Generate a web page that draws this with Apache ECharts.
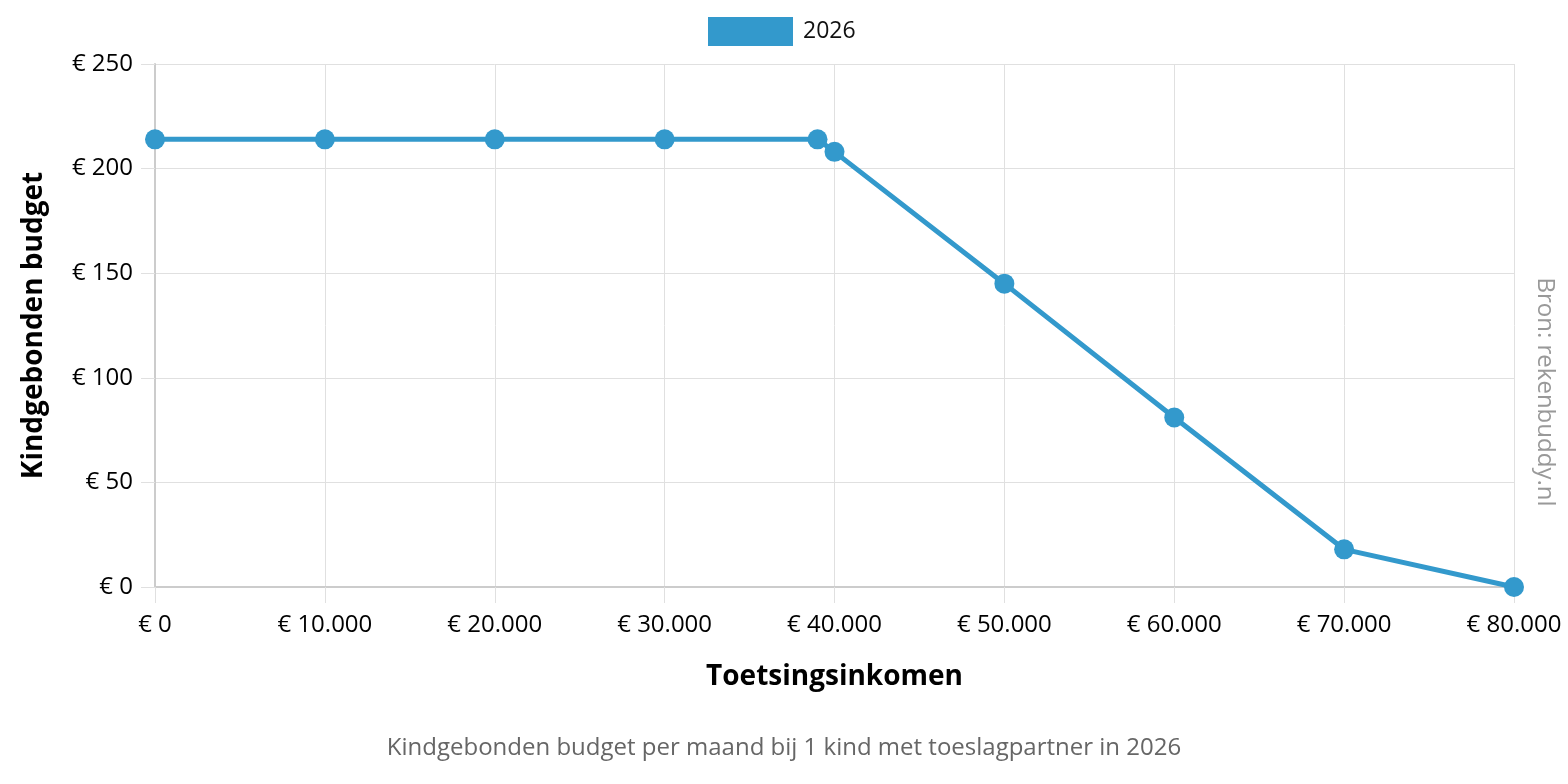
<!DOCTYPE html>
<html>
<head>
<meta charset="utf-8">
<script src="https://cdn.jsdelivr.net/npm/echarts@6/dist/echarts.min.js"></script>
<style>html,body{margin:0;padding:0;background:#fff;}#c{width:1568px;height:784px;}</style>
</head>
<body>
<div id="c"></div>
<script>
var incomes = [0, 10000, 20000, 30000, 39000, 40000, 50000, 60000, 70000, 80000];
var budget2026 = [214, 214, 214, 214, 214, 208, 145, 81, 18, 0];
var seriesName = '2026';
var titleText = 'Kindgebonden budget per maand bij 1 kind met toeslagpartner in 2026';
var xName = 'Toetsingsinkomen';
var yName = 'Kindgebonden budget';
var sourceText = 'Bron: rekenbuddy.nl';

function fmt(v) {
  return '€ ' + String(v).replace(/\B(?=(\d{3})+(?!\d))/g, '.');
}
var font = '"Open Sans", sans-serif';
var chart = echarts.init(document.getElementById('c'));
chart.setOption({
  animation: false,
  textStyle: { fontFamily: font },
  title: {
    text: titleText, left: 'center', bottom: 19,
    textStyle: { fontFamily: font, fontSize: 24, fontWeight: 'normal', color: '#666' }
  },
  legend: {
    data: [seriesName], top: 12, left: 703,
    itemWidth: 85, itemHeight: 29, itemGap: 10,
    icon: 'rect',
    textStyle: { fontFamily: font, fontSize: 23, color: '#111', padding: [0, 0, 0, 5] }
  },
  grid: { left: 155, right: 54, top: 64, bottom: 197, containLabel: false },
  xAxis: {
    type: 'value', min: 0, max: 80000, interval: 10000,
    name: xName, nameLocation: 'middle', nameGap: 76,
    nameTextStyle: { fontFamily: font, fontSize: 28, fontWeight: 'bold', color: '#000' },
    axisLine: { show: true, lineStyle: { color: '#ccc', width: 2 } },
    axisTick: { show: true, length: 16, lineStyle: { color: '#e0e0e0' } },
    splitLine: { show: true, lineStyle: { color: '#e0e0e0' } },
    axisLabel: { formatter: fmt, fontSize: 24, color: '#000', margin: 26, fontFamily: font }
  },
  yAxis: {
    type: 'value', min: 0, max: 250, interval: 50,
    name: yName, nameLocation: 'middle', nameGap: 107, nameRotate: 90,
    nameTextStyle: { fontFamily: font, fontSize: 28, fontWeight: 'bold', color: '#000' },
    axisLine: { show: true, lineStyle: { color: '#ccc', width: 2 } },
    axisTick: { show: true, length: 14, lineStyle: { color: '#e0e0e0' } },
    splitLine: { show: true, lineStyle: { color: '#e0e0e0' } },
    axisLabel: { formatter: fmt, fontSize: 24, color: '#000', margin: 22, fontFamily: font }
  },
  graphic: [{
    type: 'text', x: 1545, y: 392, rotation: -Math.PI / 2,
    style: { text: sourceText, fill: '#999', font: '24px "Open Sans", sans-serif', align: 'center', verticalAlign: 'middle' }
  }],
  series: [{
    name: seriesName, type: 'line',
    data: incomes.map(function (x, i) { return [x, budget2026[i]]; }),
    color: '#3399cc',
    lineStyle: { width: 5, color: '#3399cc' },
    itemStyle: { color: '#3399cc' },
    symbol: 'circle', symbolSize: 20, showAllSymbol: true
  }]
});
</script>
</body>
</html>
